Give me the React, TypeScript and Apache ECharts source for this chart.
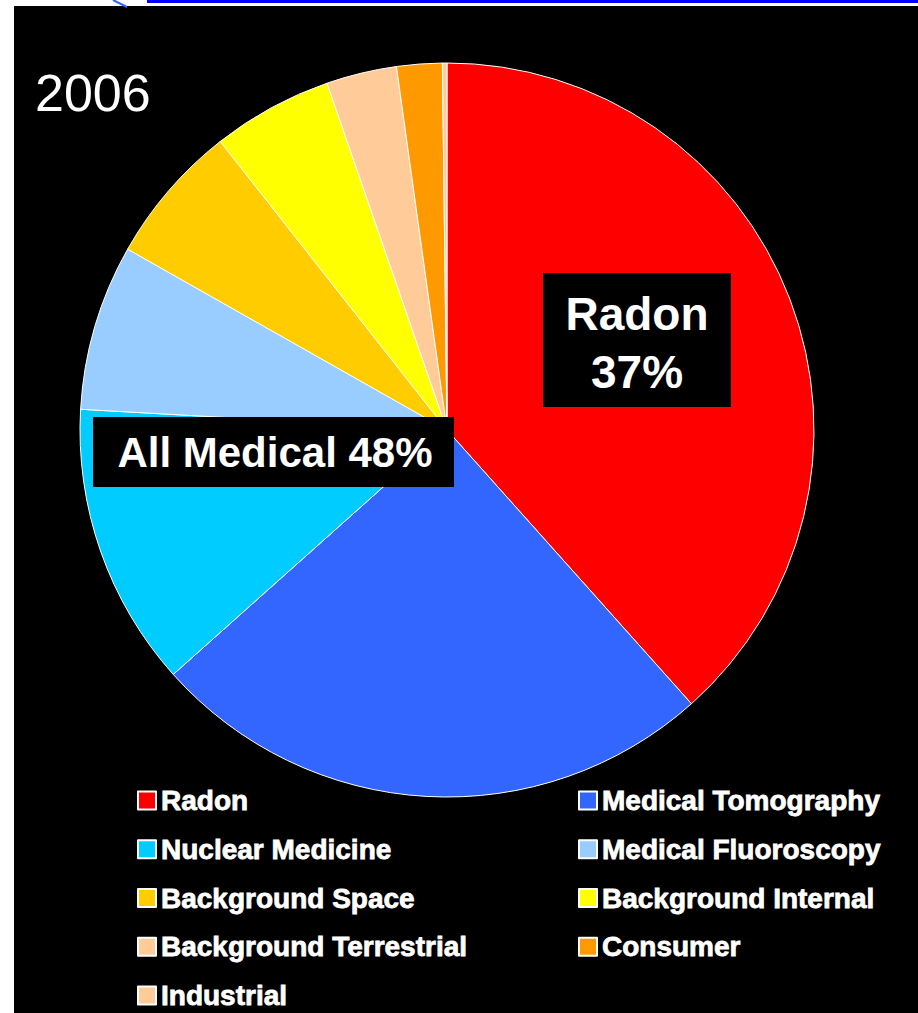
import React, { useEffect, useRef } from "react";
import * as echarts from "echarts";

const categories = [
  "Radon",
  "Medical Tomography",
  "Nuclear Medicine",
  "Medical Fluoroscopy",
  "Background Space",
  "Background Internal",
  "Background Terrestrial",
  "Consumer",
  "Industrial",
];
const shares = [38.4, 25.0, 12.5, 7.3, 6.2, 5.3, 3.1, 2.0, 0.2];
const sliceColors = [
  "#FF0000",
  "#3366FF",
  "#00CCFF",
  "#99CCFF",
  "#FFCC00",
  "#FFFF00",
  "#FFCC99",
  "#FF9900",
  "#FFCC99",
];
const leftLegend = ["Radon", "Nuclear Medicine", "Background Space", "Background Terrestrial", "Industrial"];
const rightLegend = ["Medical Tomography", "Medical Fluoroscopy", "Background Internal", "Consumer"];
const yearLabel = "2006";
const radonLabel = ["Radon", "37%"];
const medicalLabel = "All Medical 48%";

const FONT = "'Liberation Sans', Arial, sans-serif";

export default function App() {
  const ref = useRef<HTMLDivElement>(null);
  useEffect(() => {
    if (!ref.current) return;
    const chart = echarts.init(ref.current, undefined, { renderer: "svg" });
    const legendCommon = {
      orient: "vertical" as const,
      top: 786,
      height: 300,
      padding: 0,
      itemWidth: 18,
      itemHeight: 18,
      itemGap: 20,
      icon: "rect",
      selectedMode: false,
      textStyle: {
        color: "#FFFFFF",
        fontFamily: FONT,
        fontWeight: "bold" as const,
        fontSize: 28,
        lineHeight: 28,
        textBorderColor: "#FFFFFF",
        textBorderWidth: 0.8,
      },
    };
    chart.setOption({
      animation: false,
      backgroundColor: "#FFFFFF",
      legend: [
        { ...legendCommon, data: leftLegend, left: 137 },
        { ...legendCommon, data: rightLegend, left: 578 },
      ],
      graphic: [
        { type: "rect", z: 0, shape: { x: 14, y: 6, width: 904, height: 1007 }, style: { fill: "#000000" } },
        { type: "line", z: 0, shape: { x1: 147, y1: 1.5, x2: 918, y2: 1.5 }, style: { stroke: "#0000FF", lineWidth: 3 } },
        { type: "line", z: 0, shape: { x1: 113, y1: 0, x2: 127, y2: 7 }, style: { stroke: "#3366FF", lineWidth: 2 } },
        {
          type: "text",
          z: 10,
          x: 35,
          y: 93,
          style: {
            text: yearLabel,
            fill: "#FFFFFF",
            font: `52px ${FONT}`,
            verticalAlign: "middle",
            align: "left",
          },
        },
        { type: "rect", z: 10, shape: { x: 543, y: 273, width: 188, height: 134 }, style: { fill: "#000000" } },
        {
          type: "text",
          z: 11,
          x: 637,
          y: 343,
          style: {
            text: radonLabel.join("\n"),
            fill: "#FFFFFF",
            font: `bold 46px ${FONT}`,
            lineHeight: 58,
            align: "center",
            verticalAlign: "middle",
          },
        },
        { type: "rect", z: 10, shape: { x: 93, y: 417, width: 361, height: 70 }, style: { fill: "#000000" } },
        {
          type: "text",
          z: 11,
          x: 275,
          y: 452,
          style: {
            text: medicalLabel,
            fill: "#FFFFFF",
            font: `bold 42px ${FONT}`,
            align: "center",
            verticalAlign: "middle",
          },
        },
      ],
      series: [
        {
          type: "pie",
          center: [447, 430],
          radius: 367,
          startAngle: 90,
          clockwise: true,
          avoidLabelOverlap: false,
          label: { show: false },
          labelLine: { show: false },
          emphasis: { disabled: true },
          itemStyle: { borderColor: "#FFFFFF", borderWidth: 1 },
          data: categories.map((name, i) => ({
            name,
            value: shares[i],
            itemStyle: { color: sliceColors[i] },
          })),
        },
      ],
    });
    return () => chart.dispose();
  }, []);
  return (
    <div
      ref={ref}
      style={{ position: "absolute", left: 0, top: 0, width: 918, height: 1013 }}
    />
  );
}
